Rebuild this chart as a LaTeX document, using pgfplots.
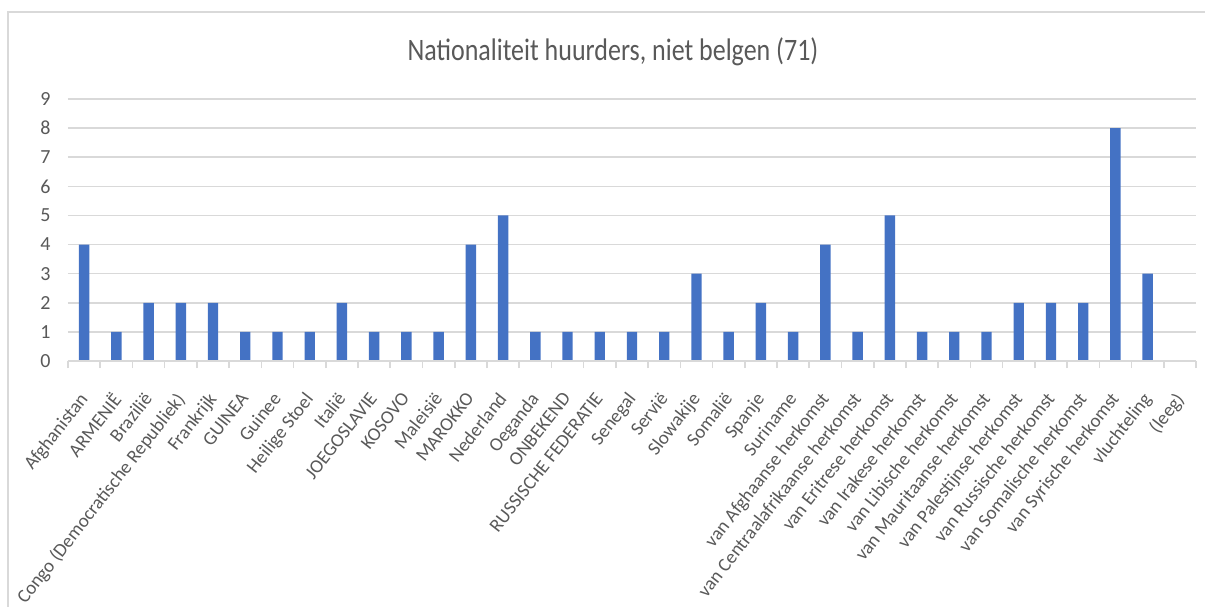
\documentclass[border=0pt]{standalone}
\usepackage{fontspec}
\setmainfont{Carlito}
\usepackage{pgfplots}
\pgfplotsset{compat=1.18}
\definecolor{barblue}{HTML}{4472C4}
\definecolor{gridgray}{HTML}{D9D9D9}
\definecolor{txtgray}{HTML}{595959}
\begin{document}
\begin{tikzpicture}
\draw[gridgray,line width=1.2pt] (4pt,-625pt) -- (4pt,-6pt) -- (650pt,-6pt);
\node[text=txtgray,font=\fontsize{13}{15}\selectfont, yscale=1.2, transform shape] at (306.5pt,-26pt) {Nationaliteit huurders, niet belgen (71)};
\begin{axis}[
  at={(34pt,-180.5pt)}, anchor=south west,
  scale only axis, width=564pt, height=131pt,
  xmin=-0.5, xmax=34.5, ymin=0, ymax=9,
  ytick={0,...,9},
  xtick={0,...,34},
  xticklabels={Afghanistan,ARMENIË,Brazilië,Congo (Democratische Republiek),Frankrijk,GUINEA,Guinee,Heilige Stoel,Italië,JOEGOSLAVIE,KOSOVO,Maleisië,MAROKKO,Nederland,Oeganda,ONBEKEND,RUSSISCHE FEDERATIE,Senegal,Servië,Slowakije,Somalië,Spanje,Suriname,van Afghaanse herkomst,van Centraalafrikaanse herkomst,van Eritrese herkomst,van Irakese herkomst,van Libische herkomst,van Mauritaanse herkomst,van Palestijnse herkomst,van Russische herkomst,van Somalische herkomst,van Syrische herkomst,vluchteling,(leeg)},
  minor xtick={-0.5,0.5,...,34.5},
  major x tick style={draw=none},
  minor x tick style={gridgray, line width=0.8pt},
  minor tick length=3.5pt,
  tick align=outside,
  ymajorgrids, grid style={gridgray, line width=0.8pt},
  major y tick style={draw=none},
  axis x line*=bottom,
  axis y line*=left,
  x axis line style={draw=none},
  y axis line style={draw=none},
  yticklabel style={text=txtgray, font=\fontsize{10}{11}\selectfont, xshift=-1pt},
  xticklabel style={text=txtgray, font=\fontsize{9.5}{11}\selectfont, xshift=-3pt, yshift=-10.5pt, rotate=52, anchor=north east, inner sep=0pt},
  /pgf/number format/assume math mode=true,
  ybar, bar width=5.2pt,
  clip=false,
]
\addplot[fill=barblue, draw=none] coordinates {
(0,4)(1,1)(2,2)(3,2)(4,2)(5,1)(6,1)(7,1)(8,2)(9,1)(10,1)(11,1)(12,4)(13,5)(14,1)(15,1)(16,1)(17,1)(18,1)(19,3)(20,1)(21,2)(22,1)(23,4)(24,1)(25,5)(26,1)(27,1)(28,1)(29,2)(30,2)(31,2)(32,8)(33,3)(34,0)};
\draw[gridgray, line width=0.8pt] (axis cs:-0.5,0) -- (axis cs:34.5,0);
\end{axis}
\pgfresetboundingbox
\path[use as bounding box] (0pt,0pt) rectangle (602.5pt,-303pt);
\end{tikzpicture}
\end{document}
